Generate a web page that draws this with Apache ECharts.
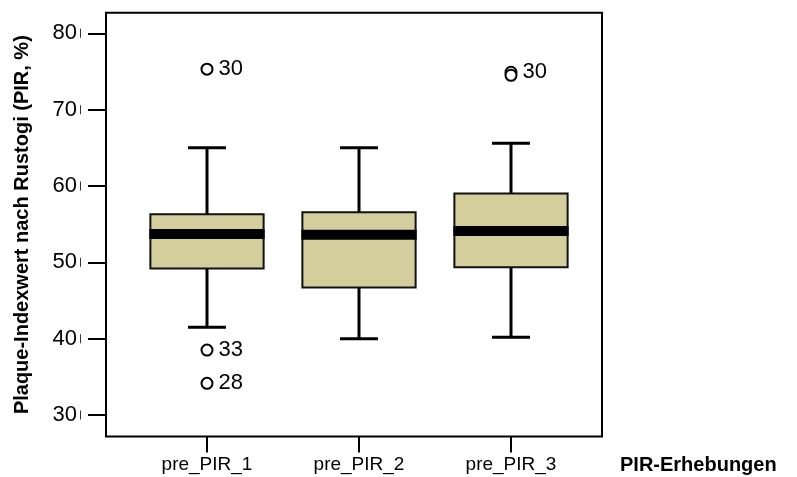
<!DOCTYPE html>
<html>
<head>
<meta charset="utf-8">
<script src="https://cdn.jsdelivr.net/npm/echarts@6/dist/echarts.min.js"></script>
<style>
html,body{margin:0;padding:0;background:#fff;}
#chart{width:797px;height:477px;}
</style>
</head>
<body>
<div id="chart"></div>
<script>
// ---- data ----
const categories = ['pre_PIR_1', 'pre_PIR_2', 'pre_PIR_3'];
const whiskerLow  = [41.5, 40.0, 40.2];
const quartile1   = [49.2, 46.7, 49.35];
const medians     = [53.7, 53.6, 54.1];
const quartile3   = [56.3, 56.55, 59.0];
const whiskerHigh = [65.0, 65.0, 65.6];
// outliers: [category index, value, case label]
const outlierCat   = [0, 0, 0, 2, 2];
const outlierValue = [75.3, 38.5, 34.15, 74.9, 74.5];
const outlierLabel = ['30', '33', '28', '30', ''];
const yTicks = [30, 40, 50, 60, 70, 80];
const yMin = 27.17, yMax = 82.7;

const FONT = '"Liberation Sans", Arial, sans-serif';
const BOX_FILL = '#D3CE9B';

const boxData = categories.map((c, i) =>
  [i, whiskerLow[i], quartile1[i], medians[i], quartile3[i], whiskerHigh[i]]);
const outlierData = outlierCat.map((c, i) => ({
  value: [c, outlierValue[i]],
  label: { show: outlierLabel[i] !== '', formatter: outlierLabel[i] }
}));

const chart = echarts.init(document.getElementById('chart'), null, { renderer: 'canvas' });

function renderBox(params, api) {
  const x = api.value(0);
  const lo = api.coord([x, api.value(1)]);
  const q1 = api.coord([x, api.value(2)]);
  const md = api.coord([x, api.value(3)]);
  const q3 = api.coord([x, api.value(4)]);
  const hi = api.coord([x, api.value(5)]);
  const band = api.size([1, 0])[0];
  const bw = band * 0.745;
  const cw = band * 0.25;
  const cx = lo[0];
  const lineStyle = { stroke: '#000', lineWidth: 3 };
  return {
    type: 'group',
    children: [
      { type: 'line', shape: { x1: cx, y1: hi[1], x2: cx, y2: q3[1] }, style: lineStyle },
      { type: 'line', shape: { x1: cx, y1: q1[1], x2: cx, y2: lo[1] }, style: lineStyle },
      { type: 'line', shape: { x1: cx - cw / 2, y1: hi[1], x2: cx + cw / 2, y2: hi[1] }, style: lineStyle },
      { type: 'line', shape: { x1: cx - cw / 2, y1: lo[1], x2: cx + cw / 2, y2: lo[1] }, style: lineStyle },
      { type: 'rect', shape: { x: cx - bw / 2, y: q3[1], width: bw, height: q1[1] - q3[1] },
        style: { fill: BOX_FILL, stroke: '#111', lineWidth: 2 } },
      { type: 'rect', shape: { x: cx - bw / 2 - 1, y: md[1] - 5, width: bw + 2, height: 10 },
        style: { fill: '#000' } }
    ]
  };
}

const option = {
  animation: false,
  backgroundColor: '#fff',
  grid: [
    { left: 131, right: 210, top: 12.7, bottom: 40.4, show: false, containLabel: false, outerBoundsMode: 'none' },
    { left: 106, right: 195, top: 12.7, bottom: 40.4, show: true, containLabel: false, outerBoundsMode: 'none',
      borderColor: '#000', borderWidth: 2, backgroundColor: 'transparent' }
  ],
  xAxis: [
    {
      type: 'category', gridIndex: 0, data: categories,
      axisLine: { show: false },
      axisTick: { show: true, alignWithLabel: true, length: 16, lineStyle: { color: '#000', width: 2 } },
      axisLabel: { color: '#000', fontSize: 19, fontFamily: FONT, margin: 19 },
      splitLine: { show: false },
      name: 'PIR-Erhebungen', nameLocation: 'end', nameGap: 33,
      nameTextStyle: { color: '#000', fontSize: 20, fontWeight: 'bold', fontFamily: FONT,
        verticalAlign: 'top', padding: [19, 0, 0, 0] }
    },
    { type: 'value', gridIndex: 1, show: false, min: 0, max: 1 }
  ],
  yAxis: [
    { type: 'value', gridIndex: 0, show: false, min: yMin, max: yMax, splitLine: { show: false } },
    {
      type: 'value', gridIndex: 1, min: yMin, max: yMax,
      axisLine: { show: false },
      splitLine: { show: false },
      axisTick: { show: true, length: 18, customValues: yTicks, lineStyle: { color: '#000', width: 2 } },
      axisLabel: {
        customValues: yTicks, margin: 25, fontFamily: FONT,
        formatter: v => '{a|' + v + '}{b|}',
        rich: {
          a: { color: '#000', fontSize: 22, fontFamily: FONT, padding: [0, 3, 0, 0] },
          b: { width: 1, height: 9, backgroundColor: '#333' }
        }
      },
      name: 'Plaque-Indexwert nach Rustogi (PIR, %)',
      nameLocation: 'middle', nameGap: 74,
      nameTextStyle: { color: '#000', fontSize: 20, fontWeight: 'bold', fontFamily: FONT }
    }
  ],
  series: [
    {
      type: 'custom', xAxisIndex: 0, yAxisIndex: 0,
      renderItem: renderBox,
      encode: { x: 0, y: [1, 2, 3, 4, 5] },
      data: boxData, z: 2
    },
    {
      type: 'scatter', xAxisIndex: 0, yAxisIndex: 0,
      symbol: 'circle', symbolSize: 11,
      itemStyle: { color: '#fff', borderColor: '#000', borderWidth: 2, opacity: 1 },
      label: { position: 'right', distance: 5, color: '#000', fontSize: 22, fontFamily: FONT },
      data: outlierData, z: 3
    }
  ]
};
chart.setOption(option);
</script>
</body>
</html>
